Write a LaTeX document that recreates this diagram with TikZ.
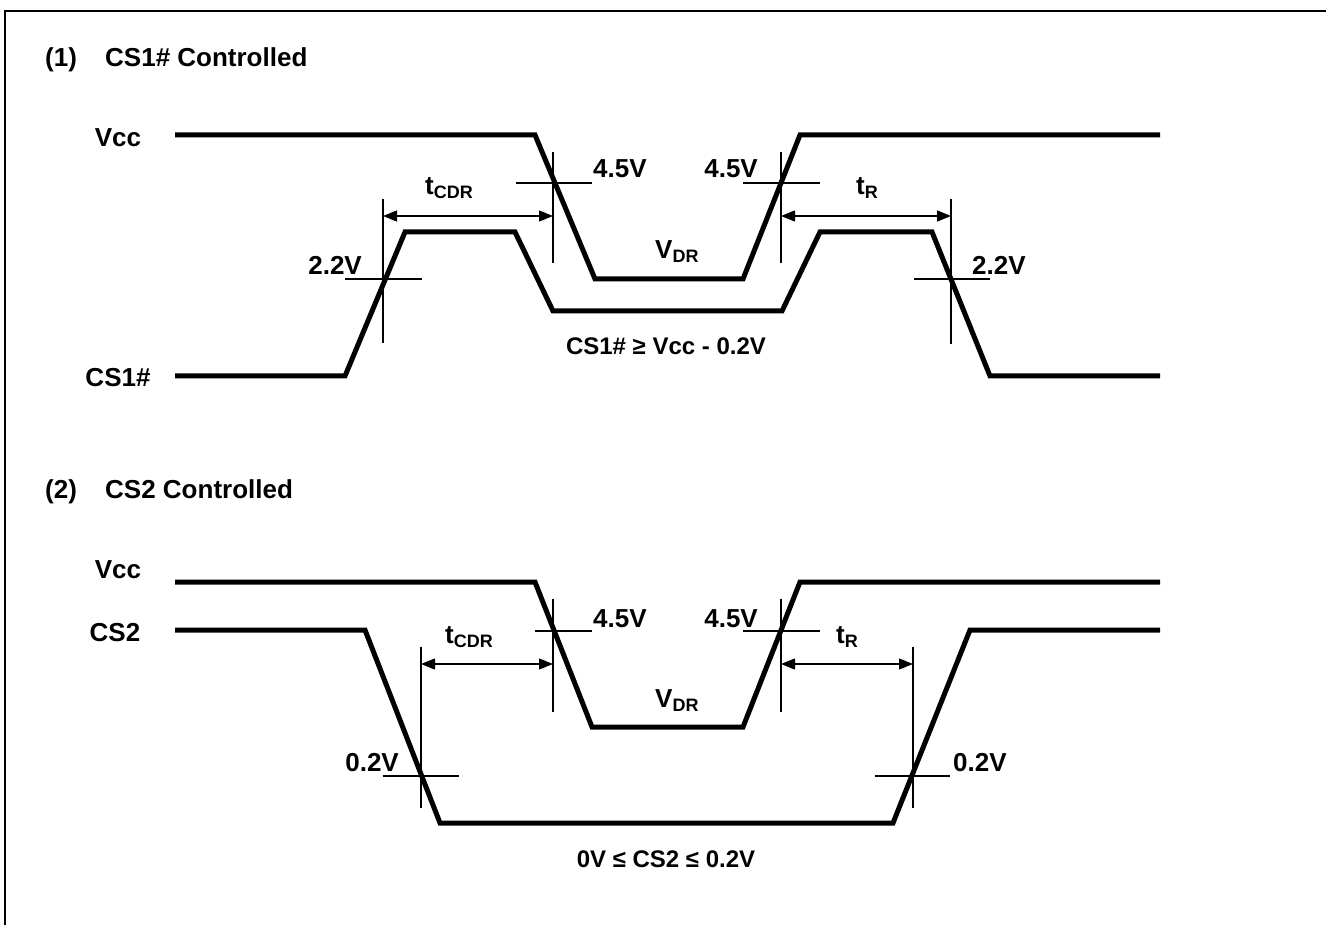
\documentclass[tikz,border=0pt]{standalone}
\usepackage{fontspec}
\setmainfont{Liberation Sans}
\usetikzlibrary{arrows.meta}
\newcommand\subtxt[1]{\raisebox{-4pt}{\fontsize{18}{18}\selectfont #1}}
\begin{document}
\begin{tikzpicture}[x=1pt,y=-1pt,line join=miter,
  sig/.style={line width=5pt},
  thinline/.style={line width=1.4pt},
  dimline/.style={line width=1.4pt,{Triangle[length=14pt,width=11pt]}-{Triangle[length=14pt,width=11pt]}},
  lbl/.style={inner sep=0pt,font=\fontsize{26}{30}\selectfont\bfseries},
  cond/.style={inner sep=0pt,font=\fontsize{24}{28}\selectfont\bfseries}]
\useasboundingbox (0,0) rectangle (1326,925);
\draw[line width=2.5pt] (1326,11) -- (5,11) -- (5,925);

% ---------- (1) CS1# controlled ----------
\node[lbl,anchor=base west] (t1n) at (45,67) {(1)};
\node[lbl,anchor=base west] (t1) at (105,67) {CS1\# Controlled};
\node[lbl,anchor=base] (vcc1) at (118,147) {Vcc};
\node[lbl,anchor=base] (cs1) at (118,387) {CS1\#};

\draw[sig] (175,135) -- (535,135) -- (595,279) -- (743,279) -- (800,135) -- (1160,135);
\draw[sig] (175,376) -- (345,376) -- (405,232) -- (515,232) -- (553,311) -- (782,311) -- (820,232) -- (932,232) -- (990,376) -- (1160,376);

\draw[thinline] (553,152) -- (553,263);
\draw[thinline] (516,183) -- (592,183);
\draw[thinline] (781,152) -- (781,263);
\draw[thinline] (743,183) -- (820,183);
\draw[thinline] (383,199) -- (383,343);
\draw[thinline] (345,279) -- (422,279);
\draw[thinline] (951,199) -- (951,344);
\draw[thinline] (914,279) -- (990,279);

\coordinate (a1) at (383,216);
\coordinate (a2) at (553,216);
\coordinate (a3) at (781,216);
\coordinate (a4) at (951,216);
\draw[dimline] (a1) -- (a2);
\draw[dimline] (a3) -- (a4);

\node[lbl,anchor=base west] (v45a) at (593,178) {4.5V};
\node[lbl,anchor=base east] (v45b) at (758,178) {4.5V};
\node[lbl,anchor=base west] (tcdr1) at (425,195) {t\subtxt{CDR}};
\node[lbl,anchor=base west] (tr1) at (856,195) {t\subtxt{R}};
\node[lbl,anchor=base east] (v22a) at (362,275) {2.2V};
\node[lbl,anchor=base west] (v22b) at (972,275) {2.2V};
\node[lbl,anchor=base west] (vdr1) at (655,259) {V\subtxt{DR}};
\node[cond,anchor=base] (cond1) at (666,355) {CS1\# ≥ Vcc - 0.2V};

% ---------- (2) CS2 controlled ----------
\node[lbl,anchor=base west] (t2n) at (45,498) {(2)};
\node[lbl,anchor=base west] (t2) at (105,498) {CS2 Controlled};
\node[lbl,anchor=base] (vcc2) at (118,578) {Vcc};
\node[lbl,anchor=base] (cs2) at (115,641) {CS2};

\draw[sig] (175,582) -- (535,582) -- (592,727) -- (743,727) -- (800,582) -- (1160,582);
\draw[sig] (175,630) -- (365,630) -- (440,823) -- (893,823) -- (970,630) -- (1160,630);

\draw[thinline] (553,599) -- (553,712);
\draw[thinline] (535,631) -- (592,631);
\draw[thinline] (781,599) -- (781,712);
\draw[thinline] (743,631) -- (820,631);
\draw[thinline] (421,647) -- (421,808);
\draw[thinline] (383,776) -- (459,776);
\draw[thinline] (913,647) -- (913,808);
\draw[thinline] (875,776) -- (950,776);

\coordinate (b1) at (421,664);
\coordinate (b2) at (553,664);
\coordinate (b3) at (781,664);
\coordinate (b4) at (913,664);
\draw[dimline] (b1) -- (b2);
\draw[dimline] (b3) -- (b4);

\node[lbl,anchor=base west] (v45c) at (593,627) {4.5V};
\node[lbl,anchor=base east] (v45d) at (758,627) {4.5V};
\node[lbl,anchor=base west] (tcdr2) at (445,643) {t\subtxt{CDR}};
\node[lbl,anchor=base west] (tr2) at (836,643) {t\subtxt{R}};
\node[lbl,anchor=base east] (v02a) at (399,771) {0.2V};
\node[lbl,anchor=base west] (v02b) at (953,771) {0.2V};
\node[lbl,anchor=base west] (vdr2) at (655,707) {V\subtxt{DR}};
\node[cond,anchor=base] (cond2) at (666,867) {0V ≤ CS2 ≤ 0.2V};
\end{tikzpicture}
\end{document}
